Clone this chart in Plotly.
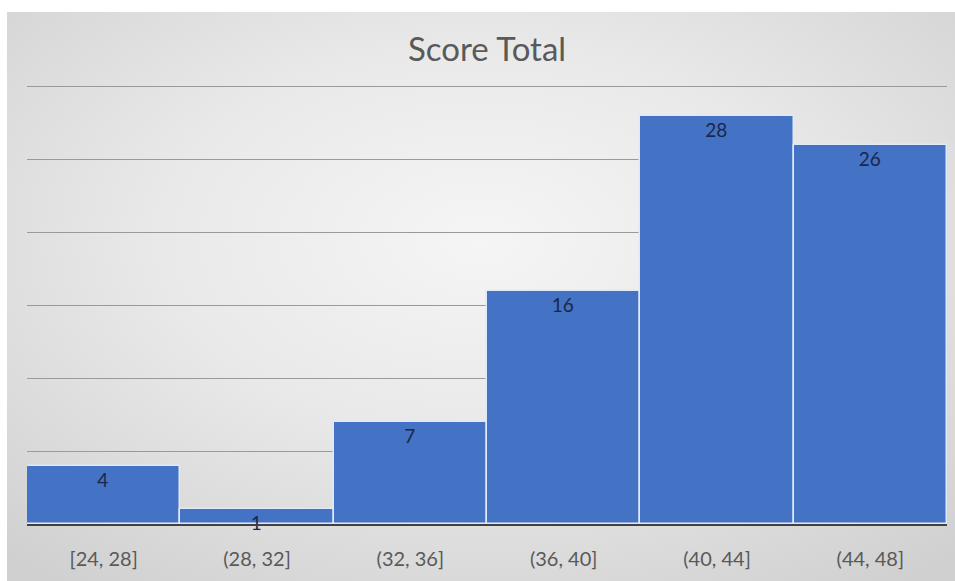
import plotly.graph_objects as go
import base64

categories = ["[24, 28]", "(28, 32]", "(32, 36]", "(36, 40]", "(40, 44]", "(44, 48]"]
counts = [4, 1, 7, 16, 28, 26]
title_text = "Score Total"

W, H = 955, 581
top = 84
bottom = 57
ph = H - top - bottom

svg = f'''<svg xmlns="http://www.w3.org/2000/svg" width="948" height="569" viewBox="0 0 948 569">
<defs><radialGradient id="g" cx="50%" cy="40%" r="75%">
<stop offset="0%" stop-color="#f5f5f5"/>
<stop offset="45%" stop-color="#e9e9e9"/>
<stop offset="100%" stop-color="#d0d0d0"/>
</radialGradient></defs>
<rect x="0" y="0" width="948" height="569" fill="url(#g)"/>
</svg>'''
src = "data:image/svg+xml;base64," + base64.b64encode(svg.encode()).decode()

fig = go.Figure()
fig.add_trace(go.Bar(
    x=categories, y=counts,
    text=[str(v) for v in counts],
    textposition="inside",
    insidetextanchor="end",
    constraintext="none",
    textangle=0,
    cliponaxis=False,
    textfont=dict(family="Lato, sans-serif", size=19, color="#1a2748"),
    marker=dict(color="#4472C4", line=dict(color="#dfe9f7", width=1.5)),
    width=1.0,
    hoverinfo="skip",
))

fig.update_layout(
    width=W, height=H,
    margin=dict(l=27, r=8, t=top, b=bottom),
    paper_bgcolor="white",
    plot_bgcolor="rgba(0,0,0,0)",
    bargap=0,
    showlegend=False,
    title=dict(text=title_text, x=0.51, xanchor="center", y=1 - 49 / H, yanchor="middle",
               font=dict(family="Lato, sans-serif", size=33, color="#595959")),
    images=[dict(source=src, xref="paper", yref="paper",
                 x=(7 - 27) / 920, y=1 + (top - 12) / ph,
                 sizex=948 / 920, sizey=569 / ph,
                 xanchor="left", yanchor="top", sizing="stretch", layer="below")],
    xaxis=dict(
        showgrid=False, showline=True, linecolor="#404040", linewidth=2,
        ticks="outside", ticklen=16, tickcolor="rgba(0,0,0,0)",
        tickfont=dict(family="Lato, sans-serif", size=20, color="#595959"),
        range=[-0.5, 5.5], fixedrange=True,
    ),
    yaxis=dict(
        range=[0, 30.2], tickvals=[5, 10, 15, 20, 25, 30], showgrid=True, gridcolor="#9a9a9a", gridwidth=1,
        showticklabels=False, zeroline=False, showline=False, fixedrange=True,
    ),
)

fig.write_html("out.html")
